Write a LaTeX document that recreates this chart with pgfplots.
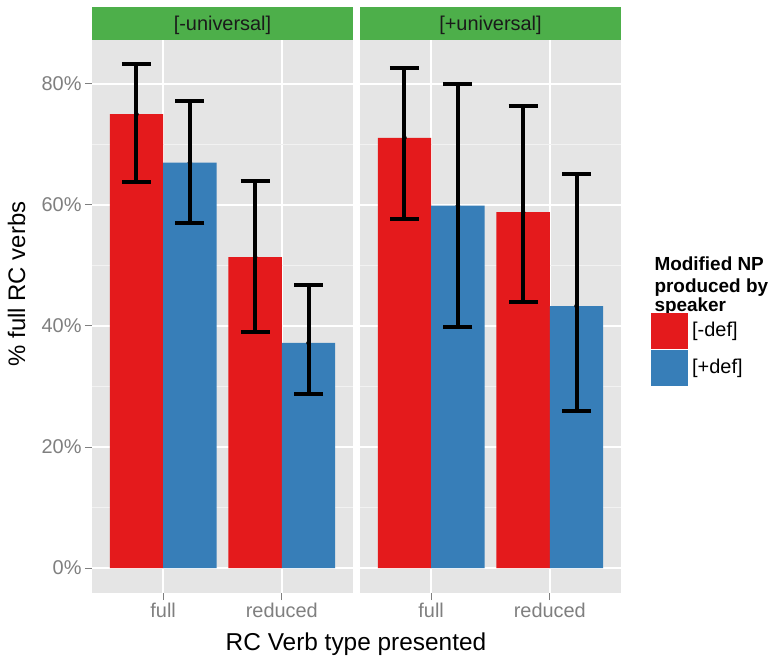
\documentclass[border=0pt]{standalone}
\usepackage{fontspec}
\setmainfont{Liberation Sans}
\usepackage{pgfplots}
\usepackage{pgfplotstable}
\pgfplotsset{compat=1.18}

\definecolor{setred}{HTML}{E41A1C}
\definecolor{setblue}{HTML}{377EB8}
\definecolor{stripgreen}{HTML}{4DAF4A}
\definecolor{panelgrey}{HTML}{E5E5E5}
\definecolor{minorgrey}{HTML}{F2F2F2}
\definecolor{tickgrey}{HTML}{7F7F7F}
\definecolor{darktext}{HTML}{1A1A1A}

% value, error up, error down; xn/xp = dodged bar centres
\pgfplotstableread{
x xn    xp    neg  negp negm pos  posp posm
1 0.775 1.225 75.0 8.3  11.2 67.0 10.2 10.0
2 1.775 2.225 51.4 12.6 12.4 37.2 9.6  8.4
}\univminus
\pgfplotstableread{
x xn    xp    neg  negp negm pos  posp posm
1 0.775 1.225 71.1 11.5 13.4 59.9 20.1 20.0
2 1.775 2.225 58.8 17.6 14.8 43.3 21.9 17.3
}\univplus

\newcommand{\fs}[1]{\fontsize{#1}{#1}\selectfont}

\pgfplotsset{
  panel/.style={
    scale only axis, width=261bp, height=553bp,
    anchor=south west,
    xmin=0.4, xmax=2.6, ymin=-4.13, ymax=87.27,
    axis background/.style={fill=panelgrey},
    axis line style={draw=none},
    xtick={1,2}, xticklabels={full,reduced},
    ytick={0,20,40,60,80}, minor ytick={10,30,50,70},
    xmajorgrids, ymajorgrids, yminorgrids,
    major grid style={white, line width=2bp},
    minor grid style={minorgrey, line width=1bp},
    tick align=outside, xtick pos=left, ytick pos=left,
    major tick length=7bp, minor tick length=0pt,
    tick style={tickgrey, line width=1bp},
    ticklabel style={font=\fs{20}, text=tickgrey},
    clip=false,
  },
  bars/.style={ybar, bar width=0.45, fill=#1, draw=none, forget plot},
  errs/.style={only marks, mark=none, black, forget plot,
    /pgfplots/error bars/y dir=both,
    /pgfplots/error bars/y explicit,
    /pgfplots/error bars/error mark=|,
    /pgfplots/error bars/error bar style={draw=black, line width=4bp, line cap=rect},
    /pgfplots/error bars/error mark options={draw=black, mark size=14.5bp, line width=4bp}},
}

\begin{document}
\begin{tikzpicture}[x=1bp, y=1bp]
\path[use as bounding box] (0bp,0bp) rectangle (778bp,659bp);

\begin{axis}[panel, at={(92bp,66bp)},
  yticklabels={0\%,20\%,40\%,60\%,80\%}]
\addplot[bars=setred, bar shift=-0.225] table[x=x, y=neg] {\univminus};
\addplot[bars=setblue, bar shift=0.225] table[x=x, y=pos] {\univminus};
\addplot[errs] table[x=xn, y=neg, y error plus=negp, y error minus=negm] {\univminus};
\addplot[errs] table[x=xp, y=pos, y error plus=posp, y error minus=posm] {\univminus};
\end{axis}

\begin{axis}[panel, at={(360bp,66bp)},
  yticklabels={}, ytick style={draw=none}]
\addplot[bars=setred, bar shift=-0.225] table[x=x, y=neg] {\univplus};
\addplot[bars=setblue, bar shift=0.225] table[x=x, y=pos] {\univplus};
\addplot[errs] table[x=xn, y=neg, y error plus=negp, y error minus=negm] {\univplus};
\addplot[errs] table[x=xp, y=pos, y error plus=posp, y error minus=posm] {\univplus};
\end{axis}

% facet strips
\fill[stripgreen] (92,619) rectangle (353,652);
\fill[stripgreen] (360,619) rectangle (621,652);
\node[text=darktext, font=\fs{20}] at (222.5,634) {[-universal]};
\node[text=darktext, font=\fs{20}] at (490.5,634) {[+universal]};

% axis titles
\node[rotate=90, anchor=base, font=\fs{24}] at (25,375) {\% full RC verbs};
\node[anchor=base, font=\fs{24.5}] at (356,9) {RC Verb type presented};

% legend
\node[anchor=base west, font=\bfseries\fs{19}] at (651,388) {Modified NP};
\node[anchor=base west, font=\bfseries\fs{19}] at (651,367) {produced by};
\node[anchor=base west, font=\bfseries\fs{19}] at (651,348) {speaker};
\fill[setred] (651,310) rectangle (688,346);
\fill[setblue] (651,273) rectangle (688,309);
\node[anchor=west, font=\fs{20}, inner sep=0pt] at (692,328) {[-def]};
\node[anchor=west, font=\fs{20}, inner sep=0pt] at (692,291) {[+def]};
\end{tikzpicture}
\end{document}
